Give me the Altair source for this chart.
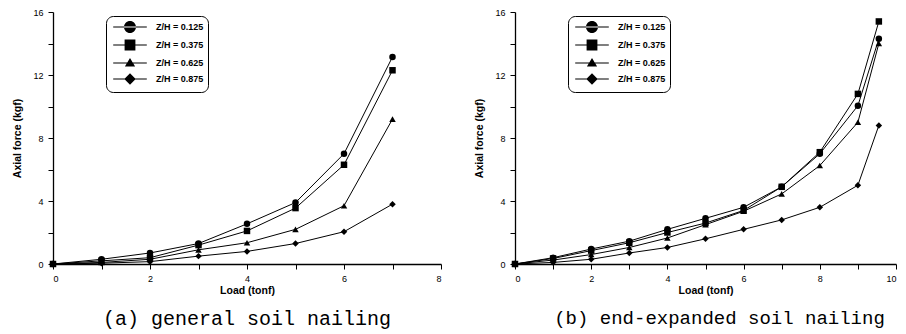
import altair as alt
import pandas as pd

series_names = ["Z/H = 0.125", "Z/H = 0.375", "Z/H = 0.625", "Z/H = 0.875"]
point_shapes = ["circle", "square", "triangle-up", "diamond"]
_bar = "M-2.8,-0.09H2.8V0.09H-2.8Z"
legend_paths = [
    _bar + "M-1,0A1,1 0 1,0 1,0A1,1 0 1,0 -1,0Z",
    _bar + "M-0.9,-0.9H0.9V0.9H-0.9Z",
    _bar + "M0,-0.85L0.85,0.6H-0.85Z",
    _bar + "M0,-0.95L0.95,0L0,0.95L-0.95,0Z",
]

# (a) general soil nailing
loads_a = [0, 1, 2, 3, 4, 5, 6, 7]
a_0125 = [0, 0.3, 0.7, 1.3, 2.55, 3.9, 7.0, 13.15]
a_0375 = [0, 0.2, 0.4, 1.2, 2.1, 3.55, 6.3, 12.3]
a_0625 = [0, 0.1, 0.3, 0.9, 1.35, 2.2, 3.7, 9.2]
a_0875 = [0, 0.05, 0.15, 0.5, 0.8, 1.3, 2.05, 3.8]

# (b) end-expanded soil nailing
loads_b = [0, 1, 2, 3, 4, 5, 6, 7, 8, 9, 9.55]
b_0125 = [0, 0.4, 0.95, 1.45, 2.2, 2.9, 3.6, 4.9, 7.0, 10.05, 14.3]
b_0375 = [0, 0.35, 0.85, 1.35, 2.0, 2.6, 3.4, 4.9, 7.1, 10.8, 15.4]
b_0625 = [0, 0.25, 0.6, 1.05, 1.65, 2.5, 3.35, 4.45, 6.25, 9.0, 14.0]
b_0875 = [0, 0.1, 0.3, 0.7, 1.05, 1.6, 2.2, 2.8, 3.6, 5.0, 8.8]

captions = ["(a) general soil nailing", "(b) end-expanded soil nailing"]


def long_df(loads, cols):
    rows = []
    for name, vals in zip(series_names, cols):
        for x, y in zip(loads, vals):
            rows.append({"load": x, "force": y, "series": name, "lseries": name})
    return pd.DataFrame(rows)


def panel(df, xmax, caption, width, height, cap_size, cap_dx):
    xvals = list(range(0, xmax + 1))
    base = alt.Chart(df).encode(
        x=alt.X("load:Q", scale=alt.Scale(domain=[0, xmax], nice=False),
                axis=alt.Axis(values=xvals, title="Load (tonf)",
                              labelExpr="datum.value % 2 == 0 ? datum.label : ''")),
        y=alt.Y("force:Q", scale=alt.Scale(domain=[0, 16], nice=False),
                axis=alt.Axis(values=list(range(0, 17, 2)), title="Axial force (kgf)",
                              labelExpr="datum.value % 4 == 0 ? datum.label : ''")),
    )
    lines = base.mark_line(color="black", strokeWidth=1).encode(detail="series:N")
    pts = base.mark_point(filled=True, color="black", size=42, opacity=1).encode(
        shape=alt.Shape("series:N", scale=alt.Scale(domain=series_names, range=point_shapes),
                        legend=None)
    )
    leg = base.mark_point(filled=True, color="black", size=144, opacity=1).encode(
        shape=alt.Shape("lseries:N",
                        scale=alt.Scale(domain=series_names, range=legend_paths),
                        legend=alt.Legend(
                            title=None, orient="none", legendX=53, legendY=4,
                            fillColor="white", strokeColor="black", cornerRadius=7,
                            padding=4, symbolOffset=13, labelOffset=19,
                            rowPadding=0, symbolSize=144,
                            symbolFillColor="black",
                            labelFont="Liberation Sans", labelFontSize=9,
                            labelFontWeight="bold", labelColor="black")),
    ).transform_filter("false")
    return alt.layer(lines, pts, leg).resolve_scale(shape="independent").properties(
        width=width, height=height,
        title=alt.TitleParams(caption, orient="bottom", font="Liberation Mono",
                              fontSize=cap_size, fontWeight="normal", color="black",
                              offset=13, dx=cap_dx),
    )


df_a = long_df(loads_a, [a_0125, a_0375, a_0625, a_0875])
df_b = long_df(loads_b, [b_0125, b_0375, b_0625, b_0875])

chart = alt.hconcat(
    panel(df_a, 8, captions[0], 388, 252, 20, 0),
    panel(df_b, 10, captions[1], 381, 252, 19, 14),
    spacing=32,
).resolve_scale(shape="independent").resolve_legend(shape="independent").properties(
    padding={"left": 4, "top": 0, "right": 0, "bottom": 0}
).configure_view(stroke=None).configure_axis(
    grid=False, domainColor="black", domainWidth=1.3, tickColor="black", tickSize=5,
    labelFont="Liberation Sans", labelFontSize=9, labelColor="black", labelPadding=5,
    titleFont="Liberation Sans", titleFontSize=10.5, titleFontWeight="bold",
    titleColor="black",
).configure_axisX(titlePadding=2).configure_axisY(titlePadding=10)

chart.save("out.html", embed_options={"renderer": "svg", "actions": False})
